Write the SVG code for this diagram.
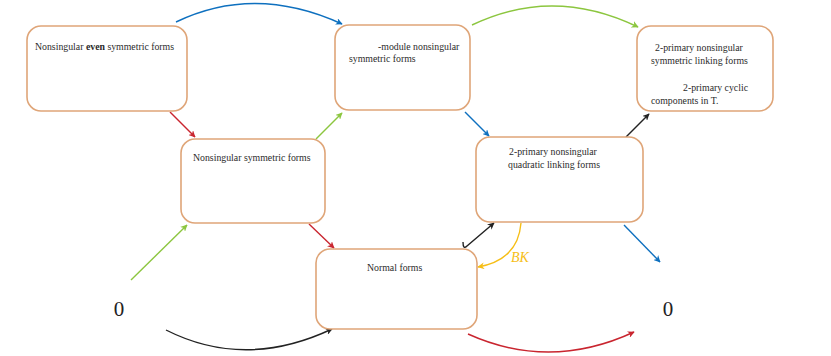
<svg xmlns="http://www.w3.org/2000/svg" width="831" height="356" viewBox="0 0 831 356">
<style>
.box{fill:#fff;stroke:#DFA578;stroke-width:1.6}
.t{font-family:"Liberation Serif",serif;font-size:9.8px;fill:#2a2a2a}
.c{fill:none;stroke-width:1.4}
.red{stroke:#C9252F}.blue{stroke:#0E70BF}.green{stroke:#8CC63F}.black{stroke:#222}.yel{stroke:#F6BE16}
</style>
<defs>
<marker id="mr" viewBox="0 0 10 10" refX="9" refY="5" markerWidth="7" markerHeight="7" markerUnits="userSpaceOnUse" orient="auto"><path d="M0 0 L10 5 L0 10 L3 5 Z" fill="#C9252F"/></marker>
<marker id="mb" viewBox="0 0 10 10" refX="9" refY="5" markerWidth="7" markerHeight="7" markerUnits="userSpaceOnUse" orient="auto"><path d="M0 0 L10 5 L0 10 L3 5 Z" fill="#0E70BF"/></marker>
<marker id="mg" viewBox="0 0 10 10" refX="9" refY="5" markerWidth="7" markerHeight="7" markerUnits="userSpaceOnUse" orient="auto"><path d="M0 0 L10 5 L0 10 L3 5 Z" fill="#8CC63F"/></marker>
<marker id="mk" viewBox="0 0 10 10" refX="9" refY="5" markerWidth="7" markerHeight="7" markerUnits="userSpaceOnUse" orient="auto"><path d="M0 0 L10 5 L0 10 L3 5 Z" fill="#222"/></marker>
<marker id="my" viewBox="0 0 10 10" refX="9" refY="5" markerWidth="7" markerHeight="7" markerUnits="userSpaceOnUse" orient="auto"><path d="M0 0 L10 5 L0 10 L3 5 Z" fill="#F6BE16"/></marker>
</defs>
<rect width="831" height="356" fill="#fff"/>
<g id="connectors">
<path class="c blue" d="M176 22 Q255 -16 342 24" marker-end="url(#mb)"/>
<path class="c green" d="M472 25 Q553 -14 638 27" marker-end="url(#mg)"/>
<path class="c red" d="M170 112 L195 137" marker-end="url(#mr)"/>
<path class="c green" d="M316 139 L342 113" marker-end="url(#mg)"/>
<path class="c blue" d="M465 112 L489 136" marker-end="url(#mb)"/>
<path class="c black" d="M626 137 L649 114" marker-end="url(#mk)"/>
<path class="c green" d="M131 280 L187 225" marker-end="url(#mg)"/>
<path class="c red" d="M309 224 L334 248" marker-end="url(#mr)"/>
<path class="c black" d="M463 242 Q463 250 467 246 L494 223" marker-end="url(#mk)"/>
<path class="c yel" d="M521 223 Q518 260 478 267" marker-end="url(#my)"/>
<path class="c blue" d="M624 225 L660 262" marker-end="url(#mb)"/>
<path class="c black" d="M166 330 Q245 370 332 329" marker-end="url(#mk)"/>
<path class="c red" d="M468 334 Q550 371 634 332" marker-end="url(#mr)"/>
</g>
<g id="n1"><rect class="box" x="27" y="26" width="160" height="85" rx="14"/>
<text class="t" x="35" y="50">Nonsingular <tspan font-weight="bold">even</tspan> symmetric forms</text></g>
<g id="n2"><rect class="box" x="335" y="25" width="135" height="85" rx="14"/>
<text class="t" x="378" y="50">-module nonsingular</text><text class="t" x="349" y="62">symmetric forms</text></g>
<g id="n3"><rect class="box" x="637" y="26" width="136" height="85" rx="14"/>
<text class="t" x="655" y="51">2-primary nonsingular</text><text class="t" x="651" y="64">symmetric linking forms</text>
<text class="t" x="683" y="91">2-primary cyclic</text><text class="t" x="651" y="104">components in T.</text></g>
<g id="n4"><rect class="box" x="181" y="139" width="144" height="84" rx="14"/>
<text class="t" x="193" y="161">Nonsingular symmetric forms</text></g>
<g id="n5"><rect class="box" x="476" y="137" width="167" height="85" rx="14"/>
<text class="t" x="509" y="155">2-primary nonsingular</text><text class="t" x="508" y="168">quadratic linking forms</text></g>
<g id="n6"><rect class="box" x="316" y="249" width="161" height="80" rx="14"/>
<text class="t" x="367" y="271">Normal forms</text></g>
<g id="z1"><text x="119" y="316" text-anchor="middle" font-family="Liberation Serif, serif" font-size="21" fill="#222">0</text></g>
<g id="z2"><text x="668" y="316" text-anchor="middle" font-family="Liberation Serif, serif" font-size="21" fill="#222">0</text></g>
<text x="511" y="262" font-family="Liberation Serif, serif" font-style="italic" font-size="14" fill="#F6BE16">BK</text>
</svg>
